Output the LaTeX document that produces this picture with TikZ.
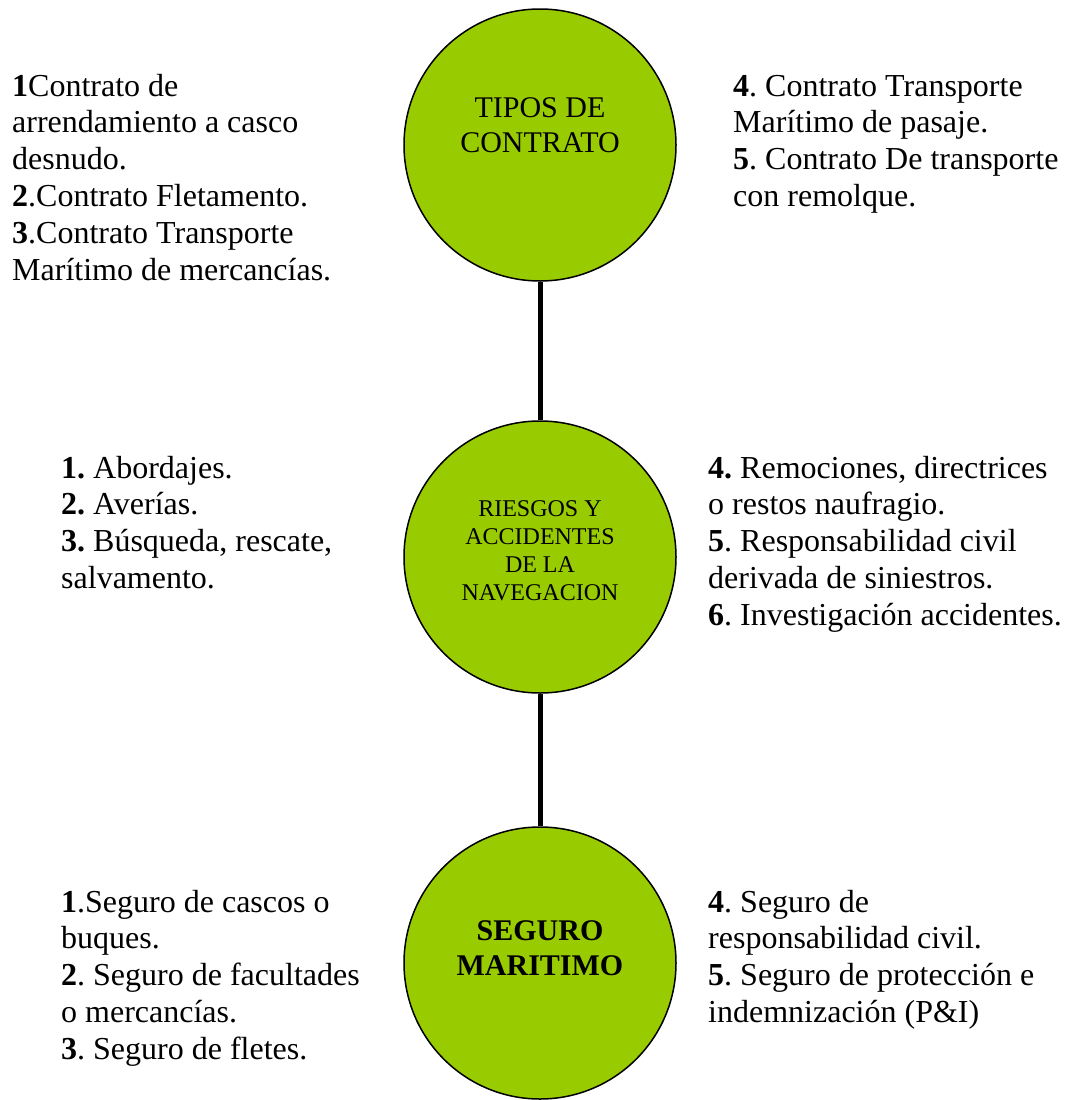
\documentclass[tikz,border=0pt]{standalone}
\usepackage{fontspec}
\setmainfont{Liberation Serif}
\usepackage{tikz}
\usetikzlibrary{positioning}
\definecolor{verdebola}{RGB}{153,204,0}
\frenchspacing

\begin{document}
\begin{tikzpicture}[
	x=1pt, y=-1pt,
	bola/.style={circle, draw=black, fill=verdebola, line width=1.5pt, minimum size=272pt, inner sep=0pt},
	titulo/.style={align=center, inner sep=0pt, anchor=base, font=\fontsize{30}{35}\selectfont},
	lista/.style={align=left, inner sep=0pt, anchor=base west, font=\fontsize{32}{36.8}\selectfont},
	enlace/.style={line width=5pt, black},
	]
	\useasboundingbox (0,0) rectangle (1066,1100);
	%Nodes
	\node[bola]      (c1) at (540,145) {};
	\node[bola]      (c2) at (540,557) {};
	\node[bola]      (c3) at (540,963) {};

	% base anchor = last line
	\node[titulo] (t1) at (540,152) {TIPOS DE\\CONTRATO};
	\node[titulo, font=\fontsize{24}{27.7}\selectfont] (t2) at (540,600) {RIESGOS Y\\ACCIDENTES\\DE LA\\NAVEGACION};
	\node[titulo, font=\fontsize{30}{35}\selectfont\bfseries] (t3) at (540,975) {SEGURO\\MARITIMO};

	\node[lista] (l1) at (12,280) {\textbf{1}Contrato de\\arrendamiento a casco\\desnudo.\\\textbf{2}.Contrato Fletamento.\\\textbf{3}.Contrato Transporte\\Marítimo de mercancías.};
	\node[lista] (r1) at (733,206.4) {\textbf{4}. Contrato Transporte\\Marítimo de pasaje.\\\textbf{5}. Contrato De transporte\\con remolque.};
	\node[lista] (l2) at (61,588.4) {\textbf{1.} Abordajes.\\\textbf{2.} Averías.\\\textbf{3.} Búsqueda, rescate,\\salvamento.};
	\node[lista] (r2) at (708,625.2) {\textbf{4.} Remociones, directrices\\o restos naufragio.\\\textbf{5}. Responsabilidad civil\\derivada de siniestros.\\\textbf{6}. Investigación accidentes.};
	\node[lista] (l3) at (61,1059.2) {\textbf{1}.Seguro de cascos o\\buques.\\\textbf{2}. Seguro de facultades\\o mercancías.\\\textbf{3}. Seguro de fletes.};
	\node[lista] (r3) at (708,1022.4) {\textbf{4}. Seguro de\\responsabilidad civil.\\\textbf{5}. Seguro de protección e\\indemnización (P\&I)};

	%Lines
	\draw[enlace] (c1) -- (c2);
	\draw[enlace] (c2) -- (c3);
\end{tikzpicture}
\end{document}
